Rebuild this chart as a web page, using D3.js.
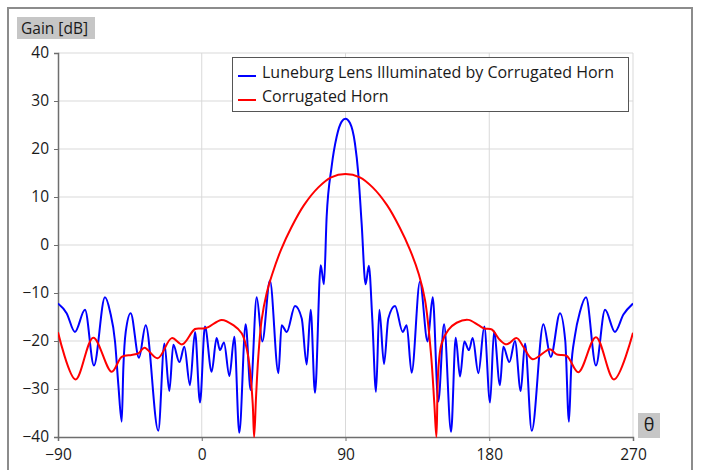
<!DOCTYPE html>
<html><head><meta charset="utf-8">
<script src="https://cdn.jsdelivr.net/npm/d3@7"></script>
<style>body{margin:0;background:#fff} text{font-family:"Open Sans",sans-serif}</style>
</head><body><svg id="c" width="702" height="470"></svg>
<script>
const thetaTicks=[-90,0,90,180,270];
const gainTicks=[-40,-30,-20,-10,0,10,20,30,40];
const seriesNames=["Luneburg Lens Illuminated by Corrugated Horn","Corrugated Horn"];
const seriesColors=["#0000ff","#ff0000"];

const lensTheta=[-90,-84.6,-79.4,-73.1,-67.5,-60.6,-57.4,-54.3,-52.2,-50.1,-49.1,-47.6,-44.5,-39.3,-35.1,-27.2,-23.4,-20.3,-17.8,-14.0,-10.9,-7.4,-4.2,-1.1,2.0,6.2,9.3,11.4,13.9,17.3,20.4,23.5,27.5,30.6,34.4,37.9,42.7,48.0,50.0,53.2,58.4,62.6,65.7,68.2,70.9,74.5,76.5,78.2,81.3,84.5,87.6,90.0,92.8,95.9,98.0,100.1,102.6,104.6,106.8,109.1,111.2,114.1,116.8,121.0,125.8,128.3,131.4,136.6,141.4,144.6,148.1,151.7,156.1,159.0,161.7,164.4,167.3,169.6,173.2,176.9,180.5,183.0,186.7,188.8,192.6,196.1,199.7,202.4,206.6,213.9,218.5,224.3,227.6,229.9,231.3,233.6,236.8,240.6,246.8,252.5,258.7,264.0,270];
const lensGain=[-12.2,-14.2,-18.1,-13.5,-25.1,-10.9,-13.9,-20.1,-29.2,-36.8,-25.7,-18.1,-14.2,-23.5,-16.7,-38.7,-20.5,-30.4,-20.8,-24.4,-21.2,-29.2,-18.1,-32.8,-17.0,-26.4,-19.4,-21.9,-20.3,-27.3,-19.1,-39.1,-16.5,-30.2,-10.9,-20.1,-7.4,-26.7,-16.7,-18.1,-12.7,-15.3,-24.9,-13.5,-30.8,-4.2,-8.2,5.9,16.3,22.6,25.7,26.3,25.4,21.2,14.9,4.5,-8.2,-4.3,-15.6,-30.6,-13.5,-24.8,-15.3,-12.7,-18.1,-16.7,-26.6,-7.6,-20.1,-10.9,-32.6,-16.5,-38.9,-19.3,-27.4,-20.1,-21.9,-19.4,-26.7,-17.0,-32.8,-18.0,-29.2,-21.2,-24.4,-20.0,-30.4,-20.5,-38.7,-16.5,-23.3,-14.2,-20.0,-36.8,-25.7,-19.0,-13.9,-10.9,-25.1,-13.5,-18.1,-14.5,-12.2];

const hornTheta=[-90,-79.0,-67.9,-56.4,-50.1,-43.9,-39.7,-35.9,-27.6,-18.8,-12.2,-4.2,1.0,4.1,12.5,19.8,25.0,28.1,30.2,31.9,32.8,34.0,35.4,37.5,40.6,44.0,49.6,56.0,64.0,73.0,81.0,90.0,99.0,107.0,116.0,124.0,130.4,136.0,139.8,143.5,145.6,146.9,148.1,150.2,154.4,159.6,166.9,173.2,176.9,181.5,186.7,190.9,197.2,201.3,207.2,218.0,222.2,228.5,235.8,246.8,258.1,270];
const hornGain=[-18.2,-28.0,-19.3,-26.4,-23.3,-22.9,-22.6,-21.4,-23.6,-19.4,-20.7,-17.5,-17.4,-17.1,-15.6,-16.7,-18.4,-21.5,-26.0,-33.0,-40,-31.6,-23.3,-15.6,-10.1,-6.2,-1.0,3.6,8.3,12.0,14.1,14.8,14.1,12.0,8.3,3.6,-1.0,-6.2,-11.5,-22.6,-33.0,-40,-26.0,-20.5,-17.7,-16.2,-15.6,-16.7,-17.4,-17.6,-19.8,-20.7,-19.4,-21.2,-23.8,-21.7,-22.8,-23.1,-26.5,-19.2,-28.0,-18.3];

const svg=d3.select("#c");
const L=58,R=633,T=53,B=437;
const x=d3.scaleLinear().domain([-90,270]).range([L,R]);
const y=d3.scaleLinear().domain([-40,40]).range([B,T]);

// outer frame
svg.append("rect").attr("x",8).attr("y",8).attr("width",684).attr("height",470)
  .attr("fill","none").attr("stroke","#8c8c8c").attr("stroke-width",2);

// grid
const g=svg.append("g");
g.selectAll(".hg").data(gainTicks.filter(d=>d>-40)).join("line")
  .attr("x1",L).attr("x2",R).attr("y1",d=>y(d)).attr("y2",d=>y(d))
  .attr("stroke","#d9d9d9").attr("stroke-width",1);
g.selectAll(".vg").data(thetaTicks.filter(d=>d>-90)).join("line")
  .attr("x1",d=>x(d)).attr("x2",d=>x(d)).attr("y1",T).attr("y2",B)
  .attr("stroke","#d9d9d9").attr("stroke-width",1);

// axes
const ax=svg.append("g").attr("transform",`translate(0,${B})`)
  .call(d3.axisBottom(x).tickValues(thetaTicks).tickSize(4).tickPadding(8).tickFormat(d3.format("d")));
const ay=svg.append("g").attr("transform",`translate(${L},0)`)
  .call(d3.axisLeft(y).tickValues(gainTicks).tickSize(4).tickPadding(5).tickFormat(d3.format("d")));
[ax,ay].forEach(a=>{
  a.select(".domain").attr("stroke","#6e6e6e").attr("stroke-width",1.5);
  a.selectAll(".tick line").attr("stroke","#6e6e6e");
  a.selectAll("text").attr("font-size",15.5).attr("fill","#1a1a1a").attr("font-family","'Open Sans',sans-serif");
});

// clip
svg.append("clipPath").attr("id","clip").append("rect").attr("x",L).attr("y",T-2).attr("width",R-L).attr("height",B-T+3);

const lineB=d3.line().x(d=>x(d[0])).y(d=>y(d[1])).curve(d3.curveMonotoneX);
const lineR=d3.line().x(d=>x(d[0])).y(d=>y(d[1])).curve(d3.curveCatmullRom.alpha(0.5));
const lensData=d3.zip(lensTheta,lensGain);
const hornData=d3.zip(hornTheta,hornGain);
const plot=svg.append("g").attr("clip-path","url(#clip)");
plot.append("path").datum(lensData).attr("d",lineB).attr("fill","none").attr("stroke",seriesColors[0]).attr("stroke-width",2);
plot.append("path").datum(hornData).attr("d",lineR).attr("fill","none").attr("stroke",seriesColors[1]).attr("stroke-width",2);

// axis title boxes
svg.append("rect").attr("x",17).attr("y",17).attr("width",78).attr("height",22).attr("fill","#c6c6c6");
svg.append("text").attr("x",21).attr("y",33.5).attr("font-size",15.5).attr("fill","#1a1a1a").text("Gain [dB]");
svg.append("rect").attr("x",638).attr("y",413).attr("width",22).attr("height",25).attr("fill","#c6c6c6");
svg.append("text").attr("x",649).attr("y",431).attr("text-anchor","middle").attr("font-size",18)
  .attr("font-family","'DejaVu Serif',serif").attr("fill","#1a1a1a").text("θ");

// legend
const lg=svg.append("g");
lg.append("rect").attr("x",232.5).attr("y",57.5).attr("width",396).attr("height",54).attr("fill","#fff").attr("stroke","#555").attr("stroke-width",1);
seriesNames.forEach((n,i)=>{
  const yy=76+i*24;
  lg.append("line").attr("x1",238).attr("x2",256).attr("y1",yy).attr("y2",yy).attr("stroke",seriesColors[i]).attr("stroke-width",2);
  lg.append("text").attr("x",262).attr("y",yy+2).attr("font-size",16).attr("fill","#1a1a1a").text(n);
});
</script></body></html>
